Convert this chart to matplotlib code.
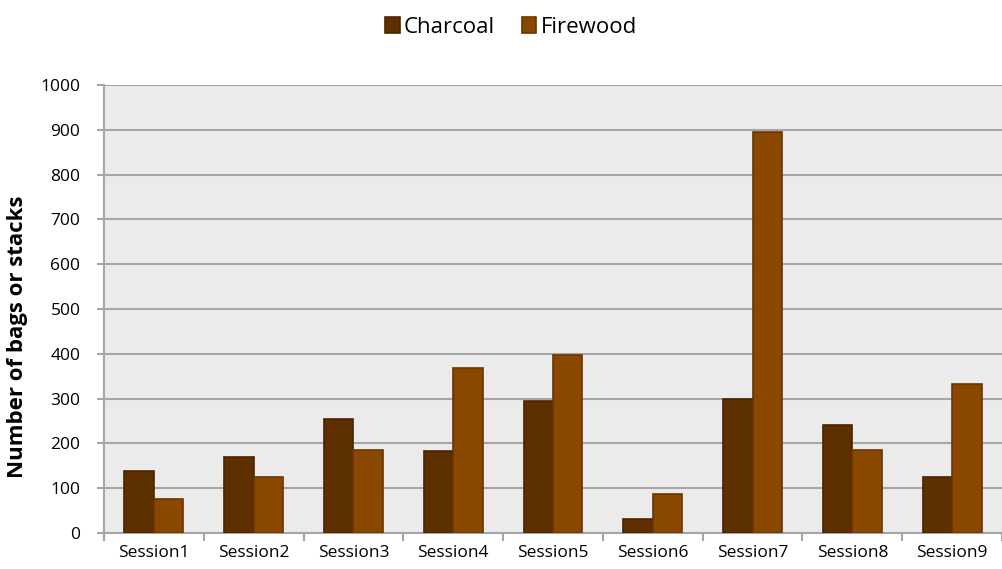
import matplotlib.pyplot as plt
import numpy as np

plt.rcParams['font.family'] = ['Open Sans', 'DejaVu Sans']

sessions = ['Session1', 'Session2', 'Session3', 'Session4', 'Session5',
            'Session6', 'Session7', 'Session8', 'Session9']
charcoal = [138, 169, 255, 183, 294, 32, 300, 240, 125]
firewood = [76, 125, 186, 369, 398, 87, 895, 186, 333]

fig = plt.figure(figsize=(10.02, 5.69), dpi=100)
ax = fig.add_axes([0.1038, 0.0633, 0.8962, 0.7873])
ax.set_facecolor('#EBEBEB')

x = np.arange(len(sessions))
w = 0.295
ax.bar(x - w / 2, charcoal, w, color='#5E3000', edgecolor='#4A2500', linewidth=1.2,
       label='Charcoal', zorder=3)
ax.bar(x + w / 2, firewood, w, color='#8A4700', edgecolor='#6A3600', linewidth=1.2,
       label='Firewood', zorder=3)

ax.set_xlim(-0.5, len(sessions) - 0.5)
ax.set_ylim(0, 1000)
ax.set_yticks(np.arange(0, 1001, 100))
ax.yaxis.grid(True, color='#A6A6A6', linewidth=1.5, zorder=1)
ax.set_xticks(x)
ax.set_xticklabels(sessions, fontsize=12.5)
ax.set_xticks(np.arange(-0.5, len(sessions)), minor=True)
ax.tick_params(axis='x', which='major', length=0, pad=9)
ax.tick_params(axis='x', which='minor', length=6, color='#A6A6A6', width=1.5)
ax.tick_params(axis='y', labelsize=12.5, length=5, color='#A6A6A6', width=1.5, pad=12)

for s in ['top', 'right']:
    ax.spines[s].set_visible(False)
for s in ['left', 'bottom']:
    ax.spines[s].set_color('#A6A6A6')
    ax.spines[s].set_linewidth(1.5)

fig.text(18 / 1002, 1 - 337 / 569, 'Number of bags or stacks', rotation=90,
         fontsize=16, fontweight='bold', ha='center', va='center')

fig.legend(loc='upper center', bbox_to_anchor=(0.51, 1.006), ncol=2, frameon=False,
           fontsize=16, handlelength=0.65, handleheight=0.75, handletextpad=0.2,
           columnspacing=1.2)

fig.savefig('out.png', dpi=100)
